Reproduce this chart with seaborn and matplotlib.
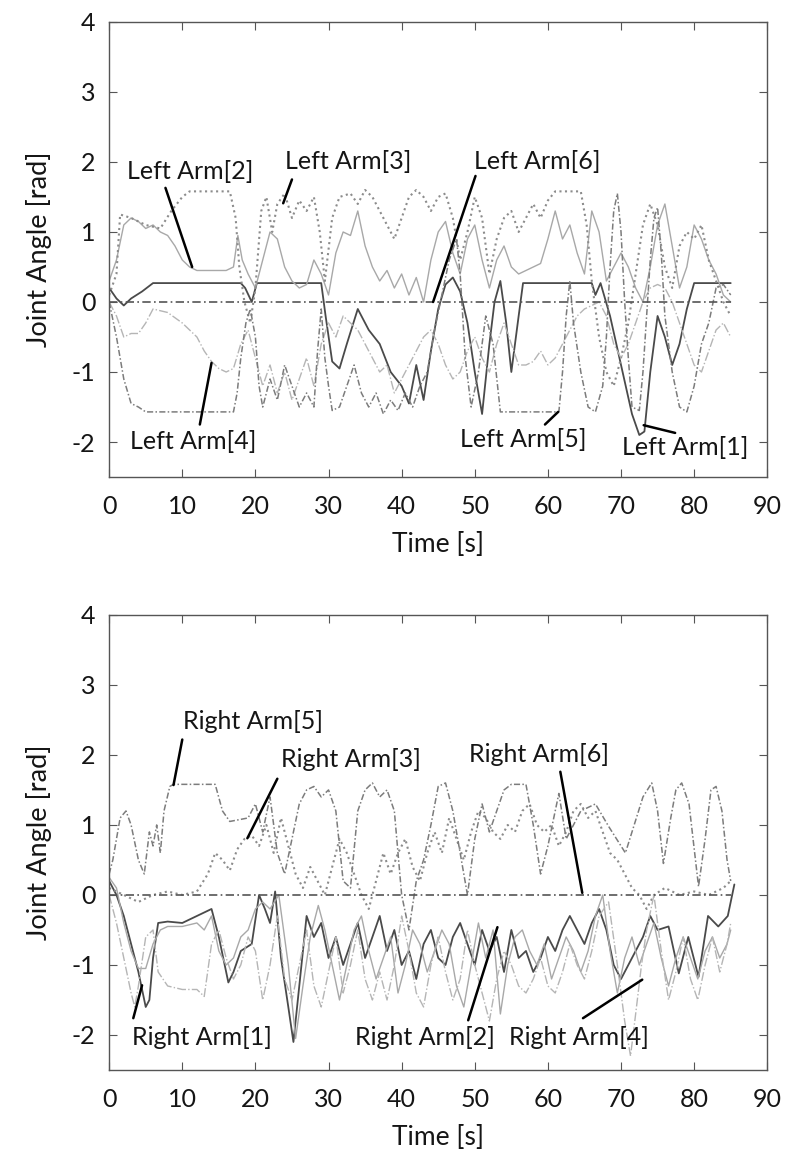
import matplotlib
matplotlib.use("Agg")
import matplotlib.pyplot as plt
import seaborn as sns

# ---- Left arm joint angles (top panel) ----
la1_t = [0, 1, 2, 3, 4.5, 6, 18, 18.6, 19.5, 20.2, 29, 29.6, 30.5, 31.5, 32.5, 34, 35.5, 37, 38.5, 40, 41, 42, 43, 44,
         45, 46, 47, 48, 49, 50, 51, 52, 52.7, 53.5, 54.3, 55, 56, 56.6, 66, 66.5, 67.2, 68.5, 70, 71.5, 72.5, 73.2,
         74, 75, 76, 77, 78, 79, 80, 85]
la1_y = [0.2, 0.05, -0.05, 0.05, 0.15, 0.27, 0.27, 0.2, 0.0, 0.27, 0.27, -0.2, -0.85, -0.95, -0.6, -0.1, -0.4, -0.6,
         -1.0, -1.2, -1.45, -0.9, -1.4, -0.7, -0.1, 0.25, 0.35, 0.15, -0.3, -1.0, -1.6, -0.6, 0.0, 0.3, -0.3, -1.0,
         -0.2, 0.27, 0.27, 0.1, 0.27, -0.2, -0.9, -1.6, -1.9, -1.85, -1.0, -0.2, -0.5, -0.9, -0.6, -0.1, 0.27, 0.27]

la2_t = [0, 1, 2, 3, 4, 5, 6, 7, 8, 9, 10, 11, 12, 14, 16, 17, 17.6, 18.2, 19, 20, 21, 22, 23, 24, 25, 26, 27, 28, 29,
         30, 31, 32, 33, 34, 35, 36, 37, 38, 39, 40, 41, 42, 43, 44, 45, 46, 47, 48, 49, 50, 51, 52, 53, 54, 55, 56,
         57, 58, 59, 60, 61, 62, 63, 64, 65, 66, 67, 68, 69, 70, 71, 72, 73, 74, 75, 76, 77, 78, 79, 80, 81, 82, 83,
         84, 85]
la2_y = [0.3, 0.6, 1.1, 1.2, 1.15, 1.05, 1.1, 1.0, 0.95, 0.8, 0.6, 0.5, 0.45, 0.45, 0.45, 0.5, 0.95, 0.6, 0.4, 0.2,
         0.6, 1.0, 0.9, 0.5, 0.3, 0.2, 0.25, 0.6, 0.4, 0.1, 0.7, 1.0, 0.95, 1.3, 0.8, 0.5, 0.3, 0.45, 0.2, 0.4, 0.1,
         0.35, 0.0, 0.6, 1.0, 1.15, 0.7, 0.4, 0.9, 1.1, 0.6, 0.2, 0.6, 0.8, 0.5, 0.4, 0.45, 0.5, 0.55, 0.9, 1.3, 0.9,
         1.1, 0.7, 0.4, 1.3, 1.0, 0.3, 0.5, 0.7, 0.5, 0.2, 0.0, 0.5, 1.1, 1.4, 0.8, 0.2, 0.5, 1.1, 0.9, 0.6, 0.4,
         0.1, 0.0]

la3_t = [0, 1, 1.5, 3, 5, 7, 8.5, 10, 11, 16.5, 17.3, 17.8, 18.5, 19.3, 20, 20.8, 21.5, 22.3, 23, 24, 25, 26, 27, 28,
         28.8, 29.5, 30.5, 31.5, 33, 34, 35, 36, 37, 38, 39, 40, 41, 42, 43, 44, 45, 46, 47, 48, 49, 50, 51, 52, 53,
         54, 55, 56, 57, 58, 59, 60, 61, 64.5, 65.3, 66, 67, 68, 69, 70, 71, 72, 73, 74, 75, 76, 77, 78, 79, 80, 81,
         82, 83, 84, 85]
la3_y = [0.1, 0.4, 1.25, 1.2, 1.1, 1.05, 1.3, 1.5, 1.58, 1.58, 1.2, 0.5, 0.0, -0.3, 0.2, 1.3, 1.5, 1.0, 1.4, 1.55,
         1.2, 1.45, 1.3, 1.5, 1.0, 0.3, 1.2, 1.5, 1.55, 1.4, 1.6, 1.5, 1.3, 1.1, 0.9, 1.2, 1.5, 1.6, 1.5, 1.3, 1.5,
         1.55, 1.2, 0.6, 1.0, 1.5, 1.2, 0.4, 0.9, 1.2, 1.3, 1.0, 1.2, 1.4, 1.2, 1.45, 1.58, 1.58, 1.1, 0.3, -0.5,
         -1.0, -1.2, -0.8, -0.3, 0.4, 1.1, 1.4, 1.1, 0.5, 0.2, 0.8, 1.0, 0.9, 1.1, 0.6, 0.3, 0.0, -0.2]

la4_t = [0, 1, 2, 3, 4, 5, 6, 8, 10, 12, 13, 14, 15, 16, 17, 18, 19, 20, 21, 22, 23, 24, 25, 26, 27, 28, 29, 30, 31,
         32, 33, 34, 35, 36, 37, 38, 39, 40, 41, 42, 43, 44, 45, 46, 47, 48, 49, 50, 51, 52, 53, 54, 55, 56, 57, 58,
         59, 60, 61, 62, 63, 64, 65, 66, 67, 68, 69, 70, 71, 72, 73, 74, 75, 76, 77, 78, 79, 80, 81, 82, 83, 84, 85]
la4_y = [0.0, -0.2, -0.5, -0.45, -0.45, -0.3, -0.1, -0.15, -0.3, -0.5, -0.7, -0.85, -0.95, -1.0, -0.95, -0.6, -0.4,
         -0.8, -1.2, -0.9, -1.3, -1.0, -1.4, -1.1, -0.8, -1.2, -0.6, -0.3, -0.5, -0.2, -0.3, -0.4, -0.6, -0.8, -1.0,
         -0.9, -1.3, -1.1, -0.9, -0.7, -0.5, -0.4, -0.6, -0.9, -1.1, -1.0, -0.7, -0.5, -0.8, -1.0, -0.6, -0.3, -0.6,
         -0.9, -0.9, -0.85, -0.7, -0.9, -0.8, -0.6, -0.4, -0.2, -0.1, -0.05, 0.0, -0.2, -0.6, -0.8, -0.6, -0.3, 0.0,
         0.2, 0.25, 0.2, 0.0, -0.3, -0.6, -0.9, -1.0, -0.7, -0.4, -0.3, -0.5]

la5_t = [0, 1, 2, 3, 4, 5, 17, 17.5, 18, 18.7, 19.3, 20, 20.5, 21, 22, 23, 24, 25, 26, 27, 28, 28.5, 29, 29.5, 30,
         30.5, 31.5, 32.5, 33.5, 34.5, 35.5, 36.5, 37.5, 38.5, 39.5, 40.5, 41.5, 42.5, 43.5, 44.5, 45.5, 46.5, 47.5,
         48, 48.7, 49.5, 50.5, 51.5, 52.5, 53.5, 61.5, 62, 62.5, 63, 63.5, 64.5, 65.5, 66.5, 67.5, 68, 68.5, 69,
         69.5, 70, 70.5, 71, 71.5, 72.5, 73, 73.5, 74, 74.5, 75, 75.5, 76, 77, 78, 79, 80, 81, 82, 83, 84, 85]
la5_y = [0.0, -0.5, -1.1, -1.45, -1.5, -1.57, -1.57, -1.3, -0.8, -0.3, -0.1, -0.5, -1.2, -1.5, -1.1, -1.4, -0.9,
         -1.2, -1.5, -1.3, -1.5, -0.7, -0.1, -0.8, -1.2, -1.55, -1.5, -1.2, -0.9, -1.3, -1.5, -1.3, -1.6, -1.4, -1.55,
         -1.3, -1.5, -1.2, -1.0, -0.4, 0.1, 0.6, 0.9, 0.4, -0.8, -1.5, -1.0, -0.2, -0.6, -1.57, -1.57, -1.0, -0.2, 0.3,
         -0.3, -1.0, -1.5, -1.57, -1.2, -0.5, 0.5, 1.3, 1.55, 1.0, 0.0, -0.8, -1.5, -1.55, -1.0, -0.2, 0.6, 1.2, 1.35,
         0.7, -0.2, -1.0, -1.5, -1.57, -1.2, -0.6, -0.3, 0.2, 0.25, 0.1]

la6_t = [0, 20, 40, 60, 85]
la6_y = [0.0, 0.0, 0.0, 0.0, 0.0]

# ---- Right arm joint angles (bottom panel) ----
ra1_t = [0, 1, 2, 3, 4, 5, 5.5, 6, 6.7, 8, 10, 12, 13, 14, 15, 16.3, 17, 18, 19.5, 20.5, 21.3, 22, 22.7, 23.5, 24.5,
         25.2, 26, 27, 28, 29, 30, 31, 32, 33, 34, 35, 36, 37, 38, 39, 40, 41, 42, 43, 44, 45, 46, 47, 48, 49, 50,
         51, 52, 53, 54, 55, 56, 57, 58, 59, 60, 61, 62, 63, 64, 65, 66, 67, 68, 69, 70, 71, 72, 73, 74, 75, 76.5,
         77.9, 79.2, 80.6, 81.9, 83.3, 84.6, 85.5]
ra1_y = [0.2, 0.0, -0.3, -0.7, -1.1, -1.6, -1.5, -0.9, -0.4, -0.38, -0.4, -0.3, -0.25, -0.2, -0.6, -1.25, -1.1, -0.8,
         -0.7, 0.0, -0.2, -0.4, 0.05, -0.9, -1.6, -2.1, -1.3, -0.3, -0.6, -0.4, -0.9, -0.6, -1.0, -0.7, -0.4, -0.9,
         -0.6, -0.3, -0.8, -0.5, -1.0, -0.8, -1.2, -0.7, -0.5, -0.9, -1.0, -0.6, -0.4, -0.7, -1.0, -0.5, -0.8, -0.6,
         -1.1, -0.5, -0.9, -0.8, -1.1, -0.9, -0.6, -0.8, -0.5, -0.3, -0.5, -0.7, -0.4, -0.2, -0.5, -1.0, -1.2, -1.0,
         -0.8, -0.6, -0.3, -0.5, -0.45, -1.12, -0.6, -1.17, -0.3, -0.45, -0.3, 0.15]

ra2_t = [0, 1, 2, 3, 4, 5, 6, 7, 8, 10, 12, 13, 14, 15, 16, 17, 18, 19, 20, 21, 22, 23.2, 24.5, 25.5, 26.5, 27.5, 28.6,
         29.5, 30.5, 31.5, 32.5, 33.5, 34.5, 35.5, 36.5, 37.5, 38.5, 39.5, 40.5, 41.5, 42.5, 43.5, 44.5, 45.5, 46.5,
         47.5, 48.5, 49.5, 50.5, 51.5, 52.5, 53.5, 54.5, 55.5, 56.5, 57.5, 58.5, 59.5, 60.5, 61.5, 62.5, 63.5, 64.5,
         65.5, 66.5, 67.5, 68.5, 69.5, 70.5, 71.5, 72.5, 73.5, 74.5, 75.5, 76.5, 77.5, 78.5, 79.5, 80.5, 81.5, 82.5,
         83.5, 84.5, 85]
ra2_y = [0.25, 0.1, -0.4, -0.8, -1.05, -1.05, -0.7, -0.5, -0.45, -0.45, -0.4, -0.5, -0.3, -0.8, -1.0, -0.9, -0.6,
         -0.5, -0.2, -0.1, -0.2, 0.0, -1.0, -2.05, -1.3, -0.6, -0.15, -0.5, -1.0, -1.5, -1.0, -0.5, -0.3, -0.8, -1.2,
         -0.9, -0.6, -1.4, -1.0, -0.5, -0.7, -1.1, -0.8, -0.5, -0.7, -1.3, -1.6, -1.0, -0.4, -0.9, -0.5, -1.7, -1.0,
         -0.6, -0.5, -0.8, -1.0, -0.7, -1.2, -0.9, -0.6, -0.8, -1.1, -0.8, -0.3, 0.0, -0.8, -1.4, -0.9, -0.6, -1.0,
         -0.7, -0.4, -0.9, -1.3, -0.9, -0.6, -0.9, -1.2, -0.8, -0.6, -0.9, -0.7, -0.5]

ra3_t = [0, 2, 4, 6, 8, 10, 12, 13.5, 14.5, 15.5, 16.5, 17.5, 18.5, 19.5, 20.5, 21.5, 22.5, 23.5, 24.5, 25.5, 26.5,
         27.5, 28.5, 29.5, 30.5, 31.5, 32.5, 33.5, 34.5, 35.5, 36.5, 37.5, 38.5, 39.5, 40.5, 41.5, 42.5, 43.5, 44.5,
         45.5, 46.5, 47.5, 48.5, 49.5, 50.5, 51.5, 52.5, 53.5, 54.5, 55.5, 56.5, 57.5, 58.5, 59.5, 60.5, 61.5, 62.5,
         63.5, 64.5, 65.5, 66.5, 67.5, 68.5, 69.5, 70.5, 71.5, 72.5, 73.5, 74.5, 76, 78, 80, 82, 84, 85]
ra3_y = [0.1, 0.0, -0.1, 0.0, 0.05, 0.0, 0.05, 0.3, 0.6, 0.5, 0.35, 0.65, 0.8, 0.85, 0.7, 1.0, 0.6, 1.1, 0.7, 0.3,
         0.1, 0.4, 0.2, 0.0, 0.4, 0.8, 0.6, 0.3, 0.0, -0.2, 0.2, 0.6, 0.3, 0.6, 0.8, 0.4, 0.2, 0.6, 0.9, 0.6, 1.1,
         0.8, 0.5, 0.9, 1.2, 1.1, 0.9, 0.8, 1.0, 0.9, 1.2, 1.3, 1.0, 0.9, 1.0, 0.7, 0.9, 1.2, 1.3, 1.1, 1.2, 0.9,
         0.6, 0.5, 0.3, 0.1, 0.0, -0.2, 0.0, 0.1, 0.0, 0.05, 0.0, 0.1, 0.2]

ra4_t = [0, 1, 2, 3, 3.5, 4, 5, 6, 6.7, 8, 10, 12, 13, 14, 15, 16, 17, 18, 19, 20, 21, 22, 23, 24, 25, 26, 27, 28, 29,
         30, 31, 32, 33, 34, 35, 36, 37, 38, 39, 40, 41, 42, 43, 44, 45, 46, 47, 48, 49, 50, 51, 52, 53, 54, 55, 56,
         57, 58, 59, 60, 61, 62, 63, 64, 65, 66, 67, 68.3, 69.5, 70.5, 71.3, 72, 72.8, 73.5, 74.5, 75.5, 76.5, 77.5,
         78.5, 79.5, 80.5, 81.5, 82.5, 83.5, 84.5, 85]
ra4_y = [0.0, -0.4, -0.9, -1.4, -1.6, -1.3, -0.6, -0.5, -1.1, -1.3, -1.35, -1.35, -1.45, -0.7, -0.5, -0.9, -1.2,
         -1.0, -0.6, -0.8, -1.5, -1.0, -0.3, -1.2, -1.5, -1.0, -0.5, -1.3, -1.6, -1.1, -0.6, -1.4, -1.0, -0.5, -1.2,
         -1.5, -1.1, -1.5, -1.0, -0.3, -0.8, -1.4, -1.6, -1.0, -0.6, -1.1, -1.5, -1.2, -0.5, -1.0, -1.4, -1.8, -1.2,
         -0.8, -1.0, -1.3, -1.4, -1.2, -0.9, -1.3, -1.4, -1.1, -0.7, -1.0, -1.2, -0.8, -0.3, -0.1, -1.0, -1.8, -2.3,
         -1.7, -1.0, -0.5, 0.0, -0.8, -1.5, -1.1, -0.6, -1.2, -1.5, -1.0, -0.6, -1.1, -0.7, -0.4]

ra5_t = [0, 0.5, 1.5, 2.3, 3, 4, 4.8, 5.5, 6, 6.5, 7, 7.5, 8.3, 8.8, 14.5, 15.5, 16.5, 19, 20, 21, 22, 23, 24, 25,
         26, 27, 28, 29, 30, 31, 32, 33, 34, 35, 36, 37, 38, 39, 40, 41, 42, 43, 44, 45, 46, 47, 48, 49, 50, 51, 52,
         53, 54, 55, 57, 58, 59, 60, 61.5, 62.5, 63.5, 64.5, 66.5, 68.3, 70.6, 71.5, 73, 74.2, 75, 75.8, 76.8, 77.5,
         78.3, 79.3, 80.6, 81.5, 82.3, 83, 83.8, 84.5, 85]
ra5_y = [0.3, 0.5, 1.1, 1.2, 1.0, 0.5, 0.3, 0.9, 0.7, 1.0, 0.6, 1.2, 1.55, 1.58, 1.58, 1.2, 1.05, 1.1, 1.3, 0.9,
         1.4, 0.6, 0.3, 0.8, 1.3, 1.5, 1.55, 1.4, 1.5, 1.2, 0.2, 0.1, 1.2, 1.5, 1.6, 1.4, 1.5, 1.2, 0.0, -0.5, 0.2,
         0.5, 1.0, 1.55, 1.6, 1.2, 0.6, 0.0, 0.8, 1.3, 0.9, 1.2, 1.5, 1.58, 1.58, 1.0, 0.3, 0.7, 1.45, 0.8, 1.0,
         1.2, 1.3, 0.98, 0.6, 0.9, 1.4, 1.6, 1.2, 0.45, 1.1, 1.5, 1.6, 1.3, 0.12, 0.8, 1.5, 1.55, 1.2, 0.5, 0.2]

ra6_t = [0, 20, 40, 60, 85]
ra6_y = [0.0, 0.0, 0.0, 0.0, 0.0]

# label text (x, y) plus pointer start/end
left_labels = ["Left Arm[2]", "Left Arm[3]", "Left Arm[6]", "Left Arm[4]", "Left Arm[5]", "Left Arm[1]"]
left_text_xy = [(11.1, 1.87), (32.7, 2.0), (58.5, 2.0), (11.5, -1.99), (56.6, -1.96), (78.8, -2.08)]
left_ptr = [((7.7, 1.63), (11.35, 0.5)), ((25.0, 1.75), (23.8, 1.41)), ((50.1, 1.8), (44.3, 0.0)),
            ((12.4, -1.75), (14.0, -0.87)), ((59.6, -1.75), (61.4, -1.57)), ((77.4, -1.87), (73.1, -1.76))]

right_labels = ["Right Arm[5]", "Right Arm[3]", "Right Arm[6]", "Right Arm[1]", "Right Arm[2]", "Right Arm[4]"]
right_text_xy = [(19.7, 2.48), (33.1, 1.93), (58.8, 2.0), (12.7, -2.03), (43.2, -2.03), (64.3, -2.03)]
right_ptr = [((10.0, 2.22), (8.8, 1.57)), ((23.0, 1.66), (18.9, 0.81)), ((61.7, 1.76), (64.7, 0.03)),
             ((3.3, -1.76), (4.5, -1.29)), ((49.1, -1.79), (53.1, -0.46)), ((64.8, -1.76), (72.9, -1.21))]

sns.set_style("ticks")
plt.rcParams['font.family'] = ['Lato', 'DejaVu Sans']
plt.rcParams['axes.unicode_minus'] = False

# styles: (color, linestyle, width)
styles = [("#4a4a4a", "-", 1.3), ("#a8a8a8", "-", 1.0), ("#8c8c8c", ":", 1.5),
          ("#b5b5b5", "-.", 1.0), ("#7c7c7c", (0, (4, 1.5, 1, 1.5)), 1.1), ("#555555", (0, (5, 2, 1, 2)), 1.2)]

fig = plt.figure(figsize=(7.91, 11.55), dpi=100)
ax1 = fig.add_axes([0.138, 0.587, 0.832, 0.394])
ax2 = fig.add_axes([0.138, 0.0736, 0.832, 0.394])

top_series = [(la1_t, la1_y), (la2_t, la2_y), (la3_t, la3_y), (la4_t, la4_y), (la5_t, la5_y), (la6_t, la6_y)]
bot_series = [(ra1_t, ra1_y), (ra2_t, ra2_y), (ra3_t, ra3_y), (ra4_t, ra4_y), (ra5_t, ra5_y), (ra6_t, ra6_y)]

for ax, series, labels, txy, ptr in [(ax1, top_series, left_labels, left_text_xy, left_ptr),
                                      (ax2, bot_series, right_labels, right_text_xy, right_ptr)]:
    for (t, y), (c, ls, lw) in zip(series, styles):
        sns.lineplot(x=t, y=y, ax=ax, color=c, linestyle=ls, linewidth=lw, sort=False, estimator=None)
    for lab, (tx, ty), ((x0, y0), (x1, y1)) in zip(labels, txy, ptr):
        ax.plot([x0, x1], [y0, y1], color="black", lw=1.8)
        ax.text(tx, ty, lab, ha="center", va="center", fontsize=18, color="#151515")
    ax.set_xlim(0, 90)
    ax.set_ylim(-2.5, 4)
    ax.set_xticks(range(0, 91, 10))
    ax.set_yticks(range(-2, 5))
    ax.tick_params(direction="in", top=True, right=True, length=6, width=0.8, labelsize=18,
                   color="#555555", labelcolor="#151515")
    ax.tick_params(axis="x", pad=13)
    ax.tick_params(axis="y", pad=10)
    for sp in ax.spines.values():
        sp.set_color("#555555")
        sp.set_linewidth(1.0)
    ax.set_xlabel("Time [s]", fontsize=19, labelpad=10, color="#151515")
    ax.set_ylabel("Joint Angle [rad]", fontsize=19.5, labelpad=14, color="#151515")

fig.savefig("out.png", dpi=100)
